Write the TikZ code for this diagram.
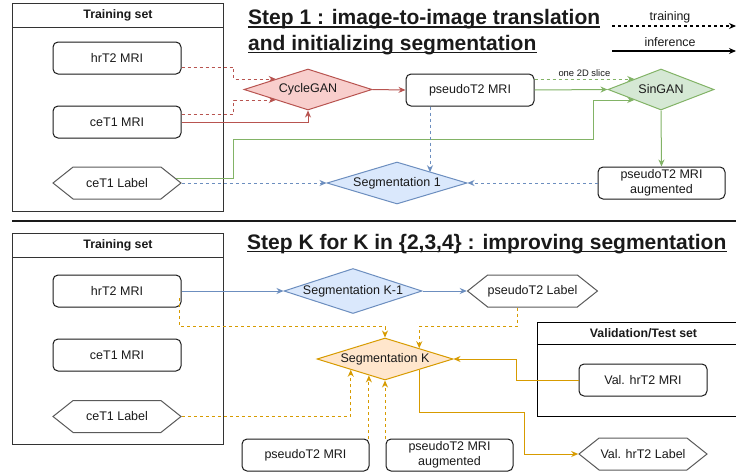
\documentclass[tikz,border=0pt]{standalone}
\usepackage{fontspec}
\setmainfont{Liberation Sans}
\usetikzlibrary{shapes.geometric,shapes.symbols,arrows.meta,calc}

\definecolor{redfill}{HTML}{F8CECC}
\definecolor{redline}{HTML}{B85450}
\definecolor{bluefill}{HTML}{DAE8FC}
\definecolor{blueline}{HTML}{6C8EBF}
\definecolor{greenfill}{HTML}{D5E8D4}
\definecolor{greenline}{HTML}{82B366}
\definecolor{orangefill}{HTML}{FFE6CC}
\definecolor{orangeline}{HTML}{D79B00}
\definecolor{txt}{HTML}{1A1A1A}
\definecolor{boxline}{HTML}{1A1A1A}
\definecolor{hexline}{HTML}{5A5A5A}
\definecolor{setline}{HTML}{333333}

\begin{document}
\begin{tikzpicture}[x=1pt,y=-1pt,
  every node/.style={text=txt},
  lbl/.style={font=\fontsize{12.5}{15}\selectfont, align=center},
  rbox/.style={draw=boxline, line width=1pt, rounded corners=5pt, fill=white,
    minimum width=128pt, minimum height=32pt, inner sep=0pt, lbl},
  hexbox/.style={shape=signal, signal to=west and east, signal pointer angle=77,
    draw=hexline, line width=1pt, fill=white,
    minimum width=128pt, minimum height=32pt, inner sep=0pt, lbl},
  dia/.style={diamond, aspect=3, line width=1pt, inner sep=0pt, lbl},
  reddia/.style={dia, draw=redline, fill=redfill},
  bluedia/.style={dia, draw=blueline, fill=bluefill},
  greendia/.style={dia, draw=greenline, fill=greenfill},
  orangedia/.style={dia, draw=orangeline, fill=orangefill},
  setbox/.style={draw=setline, line width=1pt, anchor=north west, inner sep=0pt},
  settitle/.style={font=\fontsize{12.3}{14}\bfseries\selectfont},
  conn/.style={line width=1pt, -{Stealth[length=7pt,width=6pt]}},
  dsh/.style={dash pattern=on 3pt off 3pt},
  rsol/.style={conn, draw=redline},
  rdsh/.style={rsol, dsh},
  gsol/.style={conn, draw=greenline},
  gdsh/.style={gsol, dsh},
  bsol/.style={conn, draw=blueline},
  bdsh/.style={bsol, dsh},
  osol/.style={conn, draw=orangeline},
  odsh/.style={osol, dsh},
  ksol/.style={line width=1.2pt, draw=black, -{Stealth[length=7pt,width=6pt]}},
  kdsh/.style={ksol, dsh},
  ttl/.style={font=\fontsize{21}{25}\bfseries\selectfont, anchor=base west, inner sep=0pt},
  uline/.style={line width=1.5pt, draw=txt},
  legend/.style={font=\fontsize{12.4}{14}\selectfont},
]
\clip (0,0) rectangle (736,472);
\fill[white] (0,0) rectangle (736,472);

% ---------- Step 1 ----------
\node[setbox, minimum width=211pt, minimum height=208pt] (ts1) at (12,3) {};
\draw[setline, line width=1pt] ([yshift=-24pt]ts1.north west) -- ([yshift=-24pt]ts1.north east);
\node[settitle] at ([yshift=-12pt]ts1.north) {Training set};

\node[rbox] (hr1) at (117,58) {hrT2 MRI};
\node[rbox] (ce1) at (117,122) {ceT1 MRI};
\node[hexbox] (cl1) at (117,183) {ceT1 Label};

\node[reddia, minimum width=128pt, minimum height=41pt] (cg) at (308,89.5) {CycleGAN};
\node[rbox] (ps1) at (470,90) {pseudoT2 MRI};
\node[greendia, minimum width=106pt, minimum height=41pt] (sg) at (661,89.5) {SinGAN};
\node[rbox, minimum width=127pt] (au1) at (661.5,183) {pseudoT2 MRI\\augmented};
\node[bluedia, minimum width=140pt, minimum height=42pt] (s1) at (397,183) {Segmentation 1};

\node[ttl] (t1a) at (248,24.5) {Step 1 : image-to-image translation};
\node[ttl] (t1b) at (248,50) {and initializing segmentation};
\draw[uline] ([yshift=-2.4pt]t1a.base west) -- ([yshift=-2.4pt]t1a.base east);
\draw[uline] ([yshift=-2.4pt]t1b.base west) -- ([yshift=-2.4pt]t1b.base east);

% legend
\coordinate (la) at (612,26);
\coordinate (lb) at (736,26);
\coordinate (lc) at (612,51);
\coordinate (ld) at (736,51);
\draw[kdsh] (la) -- (lb);
\draw[ksol] (lc) -- (ld);
\node[legend] (lt) at (670,17) {training};
\node[legend] (li) at (670,42.5) {inference};

% connectors, step 1
\draw[rdsh] ([yshift=-9pt]hr1.east) -- ++(52,0) |- (cg.north west);
\draw[rdsh] ([yshift=8pt]ce1.east) -- ++(52,0) |- (cg.south west);
\draw[rsol] (ce1.east) -| (cg.south);
\draw[rsol] (cg.east) -- (ps1.west);
\draw[gsol] (ps1.east) -- (sg.west);
\draw[gdsh] ([yshift=11pt]ps1.east) -- (sg.north west)
  node[midway, above=0.5pt, inner sep=1pt, font=\fontsize{9.4}{11}\selectfont] {one 2D slice};
\draw[gsol] ([xshift=-6pt,yshift=5pt]cl1.east) -- ++(58,0) |- (593,139) |- (sg.south west);
\draw[gsol] (sg.south) -- (au1.north);
\draw[bdsh] (cl1.east) -- (s1.west);
\draw[bdsh] (au1.west) -- (s1.east);
\draw[bdsh] ([xshift=-40pt]ps1.south) -- ([xshift=-40pt]ps1.south |- s1.north east);

% divider
\draw[line width=1.2pt, draw=txt] (12,221) -- (736,221);

% ---------- Step K ----------
\node[setbox, minimum width=211pt, minimum height=211pt] (ts2) at (12,233) {};
\draw[setline, line width=1pt] ([yshift=-24pt]ts2.north west) -- ([yshift=-24pt]ts2.north east);
\node[settitle] at ([yshift=-12pt]ts2.north) {Training set};

\node[setbox, draw=black, minimum width=212pt, minimum height=94pt] (vs) at (537,322) {};
\draw[black, line width=1pt] ([yshift=-22pt]vs.north west) -- ([yshift=-22pt]vs.north east);
\node[settitle] at ([yshift=-11.5pt]vs.north) {Validation/Test set};

\node[rbox] (hr2) at (117,291) {hrT2 MRI};
\node[rbox] (ce2) at (117,355) {ceT1 MRI};
\node[hexbox] (cl2) at (117,416.5) {ceT1 Label};

\node[bluedia, minimum width=138pt, minimum height=42pt] (sk1) at (353,291) {Segmentation K-1};
\node[hexbox, minimum width=127pt] (pl) at (532.5,291) {pseudoT2 Label};
\node[orangedia, minimum width=136pt, minimum height=42pt] (sk) at (385,359) {Segmentation K};
\node[rbox, minimum width=127pt] (ps2) at (305.5,455) {pseudoT2 MRI};
\node[rbox, minimum width=127pt] (au2) at (449.5,455) {pseudoT2 MRI\\augmented};
\node[rbox] (vm) at (643,380) {Val. hrT2 MRI};
\node[hexbox] (vl) at (643,454) {Val. hrT2 Label};

\node[ttl] (tk) at (247,249.3) {Step K for K in \{2,3,4\} : improving segmentation};
\draw[uline] ([yshift=-2.4pt]tk.base west) -- ([yshift=-2.4pt]tk.base east);

% connectors, step K
\draw[bsol] (hr2.east) -- (sk1.west);
\draw[bsol] (sk1.east) -- (pl.west);
\draw[odsh] ([xshift=-2pt,yshift=-7pt]hr2.east) |- ([yshift=11pt]sk.north) -- (sk.north);
\draw[odsh] ([xshift=-15.5pt]pl.south) |- ([yshift=21.5pt]sk.north east) -- (sk.north east);
\draw[odsh] (cl2.east) -| (sk.south west);
\coordinate (skp) at ($(sk.south)!0.47!(sk.south west)$);
\draw[odsh] (skp |- ps2.north) -- (skp);
\draw[odsh] (sk.south |- au2.north) -- (sk.south);
\draw[osol] (vm.west) -- ++(-62,0) |- (sk.east);
\draw[osol] (sk.south east) |- ([xshift=-54pt,yshift=42pt]vl.west) |- (vl.west);
\end{tikzpicture}
\end{document}
